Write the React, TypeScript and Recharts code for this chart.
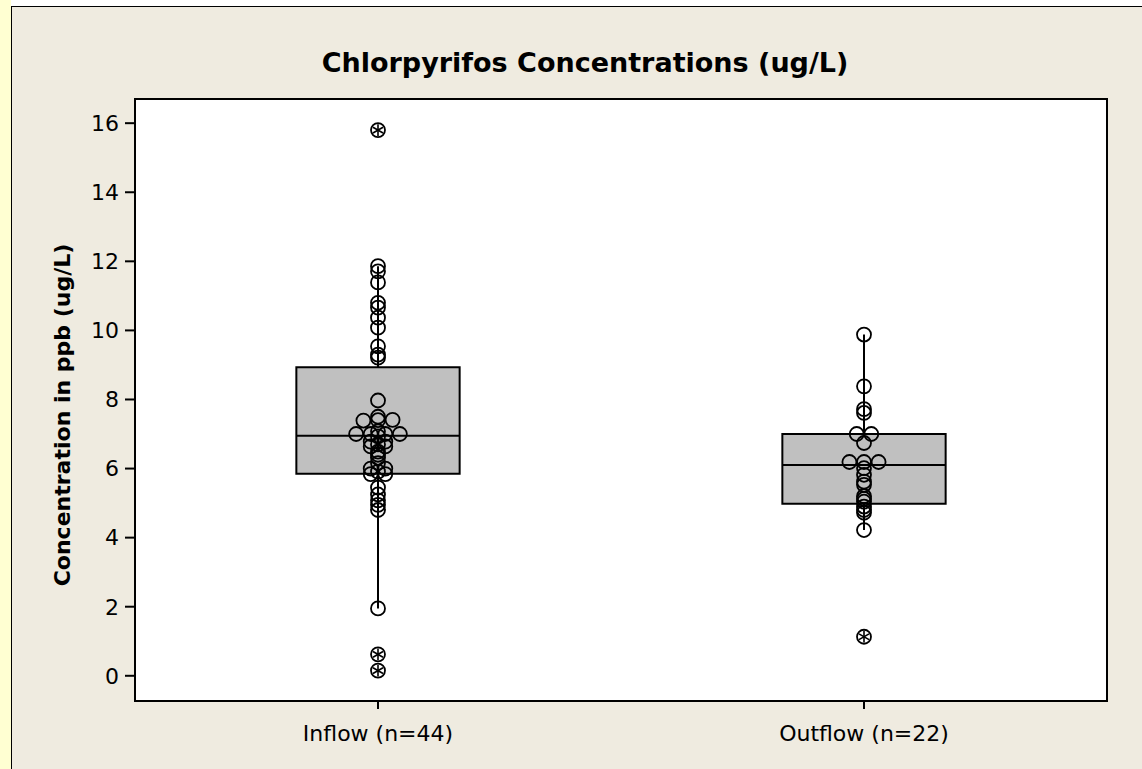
import React from "react";
import {
  ComposedChart,
  Scatter,
  XAxis,
  YAxis,
  ReferenceArea,
  ReferenceLine,
} from "recharts";

// ---------- data ----------
const categories = ["Inflow (n=44)", "Outflow (n=22)"];

const inflowValues = [
  15.8, 11.86, 11.71, 11.39, 10.8, 10.66, 10.37, 10.08, 9.54, 9.3, 9.21, 7.97,
  7.5, 7.39, 7.4, 7.41, 7.08, 7.0, 7.0, 7.0, 7.0, 6.93, 6.78, 6.78, 6.7, 6.64,
  6.64, 6.49, 6.4, 6.31, 6.16, 6.0, 6.0, 5.91, 5.84, 5.84, 5.45, 5.25, 5.08,
  4.95, 4.8, 1.95, 0.62, 0.15,
];

const outflowValues = [
  9.88, 8.38, 7.72, 7.61, 7.0, 7.0, 6.74, 6.19, 6.19, 6.19, 6.01, 5.82, 5.62,
  5.53, 5.2, 5.12, 5.04, 4.9, 4.8, 4.72, 4.22, 1.13,
];

const q1 = [5.85, 4.98];
const medians = [6.95, 6.1];
const q3 = [8.93, 7.0];
const whiskerLow = [1.95, 4.22];
const whiskerHigh = [11.86, 9.88];

const yTicks = [0, 2, 4, 6, 8, 10, 12, 14, 16];
const xTicks = [1, 2];

// ---------- style constants ----------
const W = 1142;
const H = 769;
const BOX_HALF = 0.168;
const SPREAD = 0.03;
const FONT = "'DejaVu Sans', Verdana, sans-serif";

function spreadPoints(values: number[], center: number, lo: number, hi: number) {
  const groups: Record<number, number[]> = {};
  values.forEach((v) => {
    const k = Math.round(v * 10);
    (groups[k] = groups[k] || []).push(v);
  });
  const pts: { x: number; y: number; outlier: boolean }[] = [];
  Object.keys(groups).forEach((k) => {
    const g = groups[Number(k)];
    const n = g.length;
    g.forEach((v, i) => {
      pts.push({
        x: center + (i - (n - 1) / 2) * SPREAD,
        y: v,
        outlier: v > hi || v < lo,
      });
    });
  });
  return pts;
}

const seriesValues = [inflowValues, outflowValues];
const points = seriesValues.flatMap((vals, i) =>
  spreadPoints(vals, i + 1, whiskerLow[i], whiskerHigh[i])
);

const PointShape = (props: any) => {
  const { cx, cy, payload } = props;
  if (cx == null || cy == null) return null;
  const r = 7;
  const a = 5.8;
  return (
    <g>
      <circle cx={cx} cy={cy} r={r} fill="none" stroke="#000" strokeWidth={1.8} />
      {payload.outlier && (
        <g stroke="#000" strokeWidth={1.6}>
          <line x1={cx} y1={cy - a} x2={cx} y2={cy + a} />
          <line x1={cx - a * 0.87} y1={cy - a * 0.5} x2={cx + a * 0.87} y2={cy + a * 0.5} />
          <line x1={cx - a * 0.87} y1={cy + a * 0.5} x2={cx + a * 0.87} y2={cy - a * 0.5} />
        </g>
      )}
    </g>
  );
};

export default function App() {
  return (
    <div
      style={{
        position: "absolute",
        left: 0,
        top: 0,
        width: W,
        height: H,
        background: "#ffffff",
        overflow: "hidden",
        fontFamily: FONT,
      }}
    >
      <div
        style={{
          position: "absolute",
          left: 0,
          top: 0,
          width: 11,
          height: H,
          background: "#FFFFD2",
        }}
      />
      <div
        style={{
          position: "absolute",
          left: 11,
          top: 6,
          width: W - 11,
          height: H - 6,
          background: "#EFEBE0",
          borderLeft: "1.5px solid #000",
          borderTop: "1.5px solid #000",
          boxSizing: "border-box",
        }}
      />
      <div
        style={{
          position: "absolute",
          left: 134,
          top: 98,
          width: 974,
          height: 604,
          background: "#ffffff",
          border: "2px solid #000",
          boxSizing: "border-box",
        }}
      />
      <div
        style={{
          position: "absolute",
          left: 585,
          top: 62,
          transform: "translate(-50%, -50%)",
          whiteSpace: "nowrap",
          fontWeight: "bold",
          fontSize: 27,
          color: "#000",
        }}
      >
        Chlorpyrifos Concentrations (ug/L)
      </div>
      <div
        style={{
          position: "absolute",
          left: 62,
          top: 415,
          transform: "translate(-50%, -50%) rotate(-90deg)",
          whiteSpace: "nowrap",
          fontWeight: "bold",
          fontSize: 22,
          color: "#000",
        }}
      >
        Concentration in ppb (ug/L)
      </div>
      <div style={{ position: "absolute", left: 0, top: 0 }}>
        <ComposedChart
          width={W}
          height={H}
          margin={{ top: 99, right: 35, bottom: 28, left: 75 }}
          data={points}
        >
          <XAxis
            type="number"
            dataKey="x"
            domain={[0.5, 2.5]}
            ticks={xTicks}
            allowDataOverflow
            tickFormatter={(v: number) => categories[Math.round(v) - 1] ?? ""}
            axisLine={false}
            tickLine={{ stroke: "#000", strokeWidth: 2 }}
            tickSize={8}
            tickMargin={16}
            height={40}
            tick={{ fill: "#000", fontSize: 22, fontFamily: FONT }}
          />
          <YAxis
            type="number"
            dataKey="y"
            domain={[-0.73, 16.7]}
            ticks={yTicks}
            allowDataOverflow
            axisLine={false}
            tickLine={{ stroke: "#000", strokeWidth: 2 }}
            tickSize={10}
            tickMargin={6}
            width={60}
            tick={{ fill: "#000", fontSize: 22, fontFamily: FONT }}
          />
          {categories.map((_, i) => (
            <ReferenceArea
              key={"box" + i}
              x1={i + 1 - BOX_HALF}
              x2={i + 1 + BOX_HALF}
              y1={q1[i]}
              y2={q3[i]}
              fill="#C0C0C0"
              fillOpacity={1}
              stroke="#000"
              strokeWidth={2}
              ifOverflow="visible"
            />
          ))}
          {categories.map((_, i) => (
            <ReferenceLine
              key={"med" + i}
              segment={[
                { x: i + 1 - BOX_HALF, y: medians[i] },
                { x: i + 1 + BOX_HALF, y: medians[i] },
              ]}
              stroke="#000"
              strokeWidth={2}
              ifOverflow="visible"
            />
          ))}
          {categories.map((_, i) => (
            <ReferenceLine
              key={"wh" + i}
              segment={[
                { x: i + 1, y: q3[i] },
                { x: i + 1, y: whiskerHigh[i] },
              ]}
              stroke="#000"
              strokeWidth={2}
              ifOverflow="visible"
            />
          ))}
          {categories.map((_, i) => (
            <ReferenceLine
              key={"wl" + i}
              segment={[
                { x: i + 1, y: q1[i] },
                { x: i + 1, y: whiskerLow[i] },
              ]}
              stroke="#000"
              strokeWidth={2}
              ifOverflow="visible"
            />
          ))}
          <Scatter
            data={points}
            dataKey="y"
            shape={PointShape}
            isAnimationActive={false}
          />
        </ComposedChart>
      </div>
    </div>
  );
}
